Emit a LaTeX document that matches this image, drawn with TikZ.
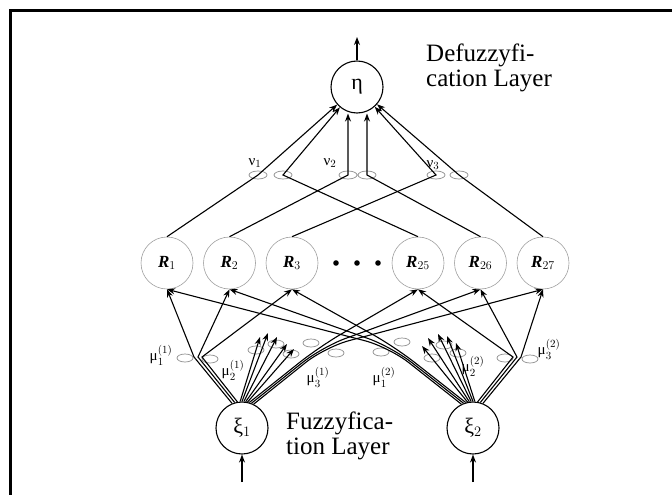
\documentclass[tikz,border=0pt]{standalone}
\usepackage{fontspec}
\setmainfont{Liberation Serif}
\usepackage{amsmath}
\usetikzlibrary{arrows.meta}

\begin{document}
\begin{tikzpicture}[x=1pt, y=-1pt, >={Stealth[length=8pt,width=6pt]}, node distance=62.5pt,
  main/.style = {draw, circle, line width=1.1pt, minimum size=52pt, inner sep=0pt, font=\fontsize{22}{22}\selectfont},
  rule/.style = {draw=gray!75, circle, line width=0.6pt, minimum size=52pt, inner sep=0pt, font=\fontsize{17}{17}\selectfont\bfseries\itshape},
  wt/.style = {draw=gray!90, line width=0.7pt},
  link/.style = {line width=1.1pt},
  lab/.style = {inner sep=0pt, font=\fontsize{15}{15}\selectfont},
  layer/.style = {inner sep=0pt, align=left, font=\fontsize{25}{25}\selectfont}]
        \useasboundingbox (0,0) rectangle (672,495);
        \draw[line width=2.3] (10.5,495) -- (10.5,10.5) -- (672,10.5);
        \node[main] (eta) at (357,87) {η};
        \node[rule] (r1) at (167,263) {R$_1$};
        \node[rule] (r2) [right of=r1] {R$_2$};
        \node[rule] (r3) [right of=r2] {R$_3$};
        \node[rule] (r25) at (418,263) {R$_{25}$};
        \node[rule] (r26) [right of=r25] {R$_{26}$};
        \node[rule] (r27) [right of=r26] {R$_{27}$};
        \node[main] (xi1) at (242,428) {ξ$_1$};
        \node[main] (xi2) at (473,428) {ξ$_2$};
        \fill (336,263) circle (2.8) (357,263) circle (2.8) (378,263) circle (2.8);
        \node[layer, anchor=west] (defuz) at (426,68) {Defuzzyfi-\\cation Layer};
        \node[layer, anchor=west] (fuz) at (286,436) {Fuzzyfica-\\tion Layer};
        \coordinate (out) at (357,37);
        \coordinate (in1) at (242,482);
        \coordinate (in2) at (473,482);
        \coordinate (v1a) at (258,175);
        \coordinate (v1b) at (283,175);
        \coordinate (v2a) at (348,175);
        \coordinate (v2b) at (367,175);
        \coordinate (v3a) at (436,175);
        \coordinate (v3b) at (459,175);
        \coordinate (m11) at (198,357);
        \coordinate (m31) at (322,347);
        \coordinate (m12) at (392,347);
        \coordinate (m32) at (517,357);
        \coordinate (p1) at (260,337);
        \coordinate (p2) at (268,333);
        \coordinate (p3) at (277,337);
        \coordinate (p4) at (287,344);
        \coordinate (p5) at (294,349);
        \coordinate (q1) at (422,346);
        \coordinate (q2) at (428,338);
        \coordinate (q3) at (438,334);
        \coordinate (q4) at (447,336);
        \coordinate (q5) at (456,343);
        \draw[wt] (v1a) ellipse (9 and 4) (v1b) ellipse (9 and 4);
        \draw[wt] (v2a) ellipse (9 and 4) (v2b) ellipse (9 and 4);
        \draw[wt] (v3a) ellipse (9 and 4) (v3b) ellipse (9 and 4);
        \draw[wt] (185,358) ellipse (8 and 4) (210,359) ellipse (8 and 4);
        \draw[wt] (256,350) ellipse (8 and 4) (276,344) ellipse (8 and 4) (291,354) ellipse (8 and 4);
        \draw[wt] (311,343) ellipse (8 and 4) (336,353) ellipse (8 and 4);
        \draw[wt] (381,352) ellipse (8 and 4) (402,342) ellipse (8 and 4);
        \draw[wt] (432,358) ellipse (8 and 4) (444,345) ellipse (8 and 4) (458,353) ellipse (8 and 4);
        \draw[wt] (505,358) ellipse (8 and 4) (530,359) ellipse (8 and 4);
        \node[lab] (nu1) at (255,163) {ν$_1$};
        \node[lab] (nu2) at (330,163) {ν$_2$};
        \node[lab] (nu3) at (433,165) {ν$_3$};
        \node[lab] (mu11) at (161,355) {μ$_1^{(1)}$};
        \node[lab] (mu21) at (233,370) {μ$_2^{(1)}$};
        \node[lab] (mu31) at (318,377) {μ$_3^{(1)}$};
        \node[lab] (mu12) at (384,377) {μ$_1^{(2)}$};
        \node[lab] (mu22) at (473,366) {μ$_2^{(2)}$};
        \node[lab] (mu32) at (549,349) {μ$_3^{(2)}$};
        \draw[->, link] (eta) -- (out);
        \draw[->, link] (in1) -- (xi1);
        \draw[->, link] (in2) -- (xi2);
        \draw[->, link] (r1.north) -- (v1a) -- (eta);
        \draw[->, link] (r25.north) -- (v1b) -- (eta);
        \draw[->, link] (r2.north) -- (v2a) -- (v2a |- eta.south);
        \draw[->, link] (r26.north) -- (v2b) -- (v2b |- eta.south);
        \draw[->, link] (r3.north) -- (v3a) -- (eta);
        \draw[->, link] (r27.north) -- (v3b) -- (eta);
        \draw[->, link] (xi1.112) -- ([xshift=-4pt]m11) -- (r1.south);
        \draw[->, link] (xi1.106) -- (m11) -- (r2.south);
        \draw[->, link] (xi1.100) -- ([xshift=4pt]m11) -- (r3.south);
        \draw[->, link] (xi1.94) -- (p1);
        \draw[->, link] (xi1.90) -- (p2);
        \draw[->, link] (xi1.86) -- (p3);
        \draw[->, link] (xi1.82) -- (p4);
        \draw[->, link] (xi1.78) -- (p5);
        \draw[->, link, rounded corners=25pt] (xi1.74) -- ([xshift=-3pt]m31) -- (r25.south);
        \draw[->, link, rounded corners=25pt] (xi1.69) -- (m31) -- (r26.south);
        \draw[->, link, rounded corners=25pt] (xi1.64) -- ([xshift=3pt]m31) -- (r27.south);
        \draw[->, link, rounded corners=25pt] (xi2.116) -- ([xshift=-3pt]m12) -- (r1.south);
        \draw[->, link, rounded corners=25pt] (xi2.111) -- (m12) -- (r2.south);
        \draw[->, link, rounded corners=25pt] (xi2.106) -- ([xshift=3pt]m12) -- (r3.south);
        \draw[->, link] (xi2.102) -- (q1);
        \draw[->, link] (xi2.98) -- (q2);
        \draw[->, link] (xi2.94) -- (q3);
        \draw[->, link] (xi2.90) -- (q4);
        \draw[->, link] (xi2.86) -- (q5);
        \draw[->, link] (xi2.80) -- ([xshift=-4pt]m32) -- (r25.south);
        \draw[->, link] (xi2.74) -- (m32) -- (r26.south);
        \draw[->, link] (xi2.68) -- ([xshift=4pt]m32) -- (r27.south);
\end{tikzpicture}
\end{document}
